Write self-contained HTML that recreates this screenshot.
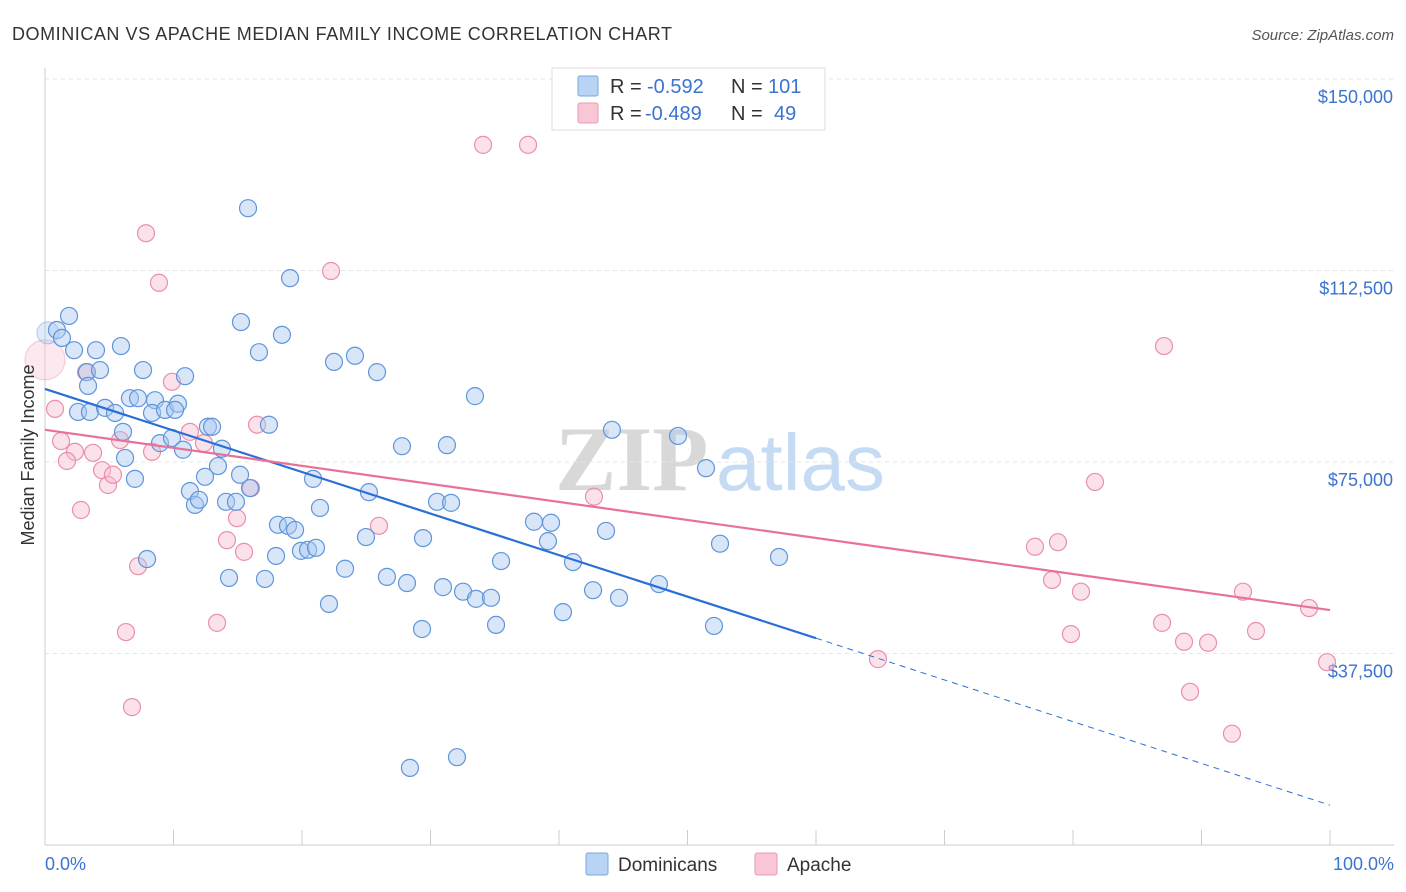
<!DOCTYPE html>
<html><head><meta charset="utf-8">
<style>
body{margin:0;background:#fff;font-family:"Liberation Sans",sans-serif;}
svg{display:block}
</style></head>
<body>
<svg id="chart" width="1406" height="892" xmlns="http://www.w3.org/2000/svg">
<text x="12" y="40" font-size="18" fill="#333" textLength="660">DOMINICAN VS APACHE MEDIAN FAMILY INCOME CORRELATION CHART</text>
<text x="1394" y="40" font-size="15" fill="#555" font-style="italic" text-anchor="end">Source: ZipAtlas.com</text>
<g>
<text x="555" y="490" font-size="92" font-family="Liberation Serif, serif" fill="#d8d8d8" font-weight="bold">ZIP</text>
<text x="716" y="490" font-size="80" fill="#c5daf3">atlas</text>
</g>
<g id="grid"></g><g id="axes"></g><g id="marks"></g>
<text transform="translate(34,455) rotate(-90)" font-size="18" fill="#333" text-anchor="middle">Median Family Income</text>
<text x="45" y="870" font-size="18" fill="#3b73d1">0.0%</text>
<text x="1394" y="870" font-size="18" fill="#3b73d1" text-anchor="end">100.0%</text>
<g>
<rect x="552" y="68" width="273" height="62" fill="#fff" stroke="#ddd"/>
<rect x="578" y="76" width="20" height="20" fill="#b8d3f3" stroke="#7aa7e0" rx="2"/>
<rect x="578" y="103" width="20" height="20" fill="#f9c6d6" stroke="#e99ab4" rx="2"/>
<text x="610" y="93" font-size="20" fill="#333">R =</text>
<text x="647" y="93" font-size="20" fill="#3b73d1">-0.592</text>
<text x="731" y="93" font-size="20" fill="#333">N =</text>
<text x="768" y="93" font-size="20" fill="#3b73d1">101</text>
<text x="610" y="120" font-size="20" fill="#333">R =</text>
<text x="645" y="120" font-size="20" fill="#3b73d1">-0.489</text>
<text x="731" y="120" font-size="20" fill="#333">N =</text>
<text x="774" y="120" font-size="20" fill="#3b73d1">49</text>
</g>
<g>
<rect x="586" y="853" width="22" height="22" fill="#b8d3f3" stroke="#7aa7e0" rx="2"/>
<text x="618" y="871" font-size="19" fill="#333">Dominicans</text>
<rect x="755" y="853" width="22" height="22" fill="#f9c6d6" stroke="#e99ab4" rx="2"/>
<text x="787" y="871" font-size="19" fill="#333">Apache</text>
</g>
</svg>
<script>
const yTicks=[150000,112500,75000,37500];
const yTickLabels=["$150,000","$112,500","$75,000","$37,500"];
const domX=[0.23,0.93,1.32,1.87,2.26,3.97,5.91,3.27,4.28,7.63,10.9,3.35,2.57,3.5,4.67,5.45,6.61,7.24,8.56,8.33,9.34,10.35,10.12,12.68,13.0,6.07,8.95,9.88,10.74,13.77,6.23,13.46,15.18,12.45,7.0,11.28,11.67,11.98,14.09,14.86,15.95,15.8,19.07,15.25,18.44,16.65,22.49,24.12,25.84,17.43,20.86,25.21,21.4,27.78,31.28,33.46,44.12,49.26,51.44,18.13,18.91,19.46,17.98,19.92,20.47,21.09,7.94,14.32,17.12,23.35,24.98,29.42,26.61,28.17,30.97,32.53,33.54,34.71,35.1,29.34,22.1,30.51,31.6,38.05,39.38,39.14,43.66,35.49,41.09,42.65,44.67,47.78,40.31,52.53,57.12,52.06,28.4,32.06];
const domY=[100300,100850,99300,103600,96900,96900,97700,92600,93000,93000,91800,89900,84800,84800,85600,84600,87500,87500,87100,84600,85200,86400,85200,81900,81900,80900,78700,79700,77400,77600,75800,74200,72500,72100,71700,69300,66600,67600,67200,67200,69900,124700,111000,102400,99900,96500,94600,95800,92600,82300,71700,69100,66000,78100,78300,87900,81300,80100,73800,62700,62500,61700,56600,57600,57800,58200,56000,52300,52100,54100,60300,60100,52500,51300,50500,49600,48200,48400,43100,42300,47200,67200,67000,63300,63100,59500,61500,55600,55400,49900,48400,51100,45600,59000,56400,42900,15100,17200];
const apaX=[0,0.78,1.25,2.33,1.71,3.74,2.8,4.44,4.9,5.29,5.84,3.19,7.86,8.87,9.88,8.33,7.24,6.3,6.77,11.28,12.37,14.94,14.16,15.49,13.39,16.5,16.03,22.26,25.99,34.09,37.59,42.72,64.82,81.71,87.08,77.04,78.83,78.37,80.62,79.84,86.93,88.64,90.51,89.11,92.37,93.23,94.24,98.37,99.77];
const apaY=[95000,85400,79100,77000,75200,76800,65600,73400,70500,72500,79300,92600,119800,110100,90700,77000,54600,41700,27000,80900,78700,64000,59700,57400,43500,82300,69900,112400,62500,137100,137100,68200,36400,71100,97700,58400,59300,51900,49600,41300,43500,39800,39600,30000,21800,49600,41900,46400,35800];
const domLineX=[0,60],domLineY=[89300,40500];
const domDashX=[60,100],domDashY=[40500,7800];
const apaLineX=[0,100],apaLineY=[81300,46000];

const NS="http://www.w3.org/2000/svg";
const xs=v=>45+v*12.85;
const ys=v=>79+(150000-v)/37500*191.5;
function mk(tag,attrs,parent){const e=document.createElementNS(NS,tag);for(const k in attrs)e.setAttribute(k,attrs[k]);parent.appendChild(e);return e;}
const grid=document.getElementById('grid'),axes=document.getElementById('axes'),marks=document.getElementById('marks');
yTicks.forEach((t,i)=>{
  const l=mk('line',{x1:45,x2:1394,y1:ys(t),y2:ys(t),stroke:'#e4e4e4','stroke-dasharray':'4,4'},grid);
  
  
  const tx=mk('text',{x:1393,y:ys(t)+24,'font-size':18,fill:'#3b73d1','text-anchor':'end'},axes);
  tx.textContent=yTickLabels[i];
  
  
});
const ax=mk('line',{x1:45,x2:45,y1:68,y2:845,stroke:'#ccc'},axes);


const bx=mk('line',{x1:45,x2:1394,y1:845,y2:845,stroke:'#ccc'},axes);


for(let i=0;i<=10;i++){
  const t=mk('line',{x1:xs(i*10),x2:xs(i*10),y1:830,y2:845,stroke:'#ccc'},axes);
  
  
}
function dots(X,Y,fill,stroke,name,big){
  X.forEach((x,i)=>{
    const c=mk('circle',{cx:xs(x),cy:ys(Y[i]),r:(i===0?big:8.5),fill:fill,'fill-opacity':(i===0?0.35:0.45),stroke:stroke,'stroke-width':1.2,'stroke-opacity':(i===0?0.4:1)},marks);
    
    
  });
}
dots(apaX,apaY,'#f7bcd0','#e98fad','apache-point',20);
dots(domX,domY,'#a9c8ef','#5f95dc','dominican-point',11);
function line(X,Y,col,w,dash,name){
  const l=mk('line',{x1:xs(X[0]),y1:ys(Y[0]),x2:xs(X[1]),y2:ys(Y[1]),stroke:col,'stroke-width':w},marks);
  if(dash)l.setAttribute('stroke-dasharray',dash);
  
  
}
line(domLineX,domLineY,'#2a6fd6',2.2,null,'dominican-trend-line');
line(domDashX,domDashY,'#2a6fd6',1,'6,5','dominican-trend-extension');
line(apaLineX,apaLineY,'#e8719a',2.2,null,'apache-trend-line');
</script>
</body></html>
